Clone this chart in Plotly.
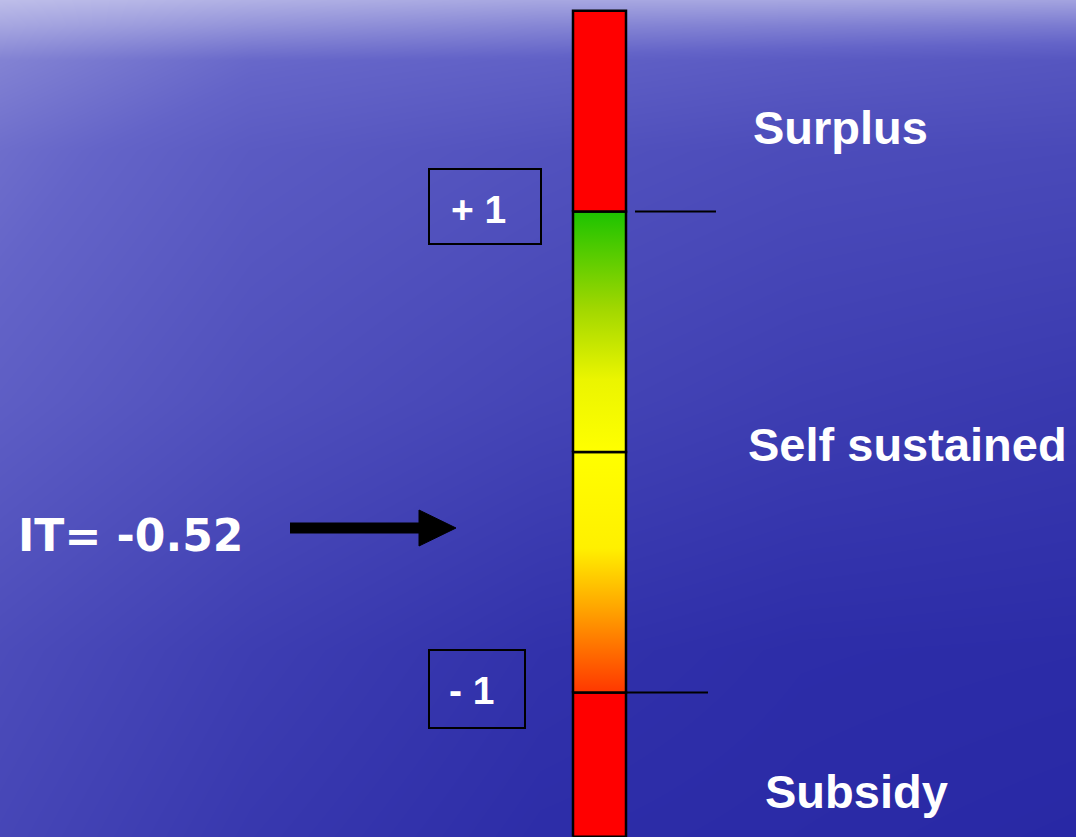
import plotly.graph_objects as go

# scale of the indicator bar (value units)
segments = ['Subsidy', 'Self sustained (low)', 'Self sustained (high)', 'Surplus']
seg_low = [-1.60, -1.0, 0.0, 1.0]
seg_high = [-1.0, 0.0, 1.0, 1.835]
seg_colors = [
    [[0, 'rgb(255,0,0)'], [1, 'rgb(255,0,0)']],
    [[0, 'rgb(255,55,0)'], [0.35, 'rgb(255,165,0)'], [0.6, 'rgb(255,240,0)'], [1, 'rgb(255,255,0)']],
    [[0, 'rgb(255,255,0)'], [0.3, 'rgb(235,245,0)'], [0.6, 'rgb(160,215,0)'], [1, 'rgb(28,195,0)']],
    [[0, 'rgb(255,0,0)'], [1, 'rgb(255,0,0)']],
]
region_labels = ['Surplus', 'Self sustained', 'Subsidy']
region_values = [1.35, 0.03, -1.41]
region_x = [840, 907, 856]
threshold_labels = ['+ 1', '- 1']
threshold_values = [1, -1]
it_value = -0.52
it_arrow_at = -0.316

# page geometry: pixel -> value along the bar
PX0, PXU = 452, 240.5
def v(py):
    return (PX0 - py) / PXU

fig = go.Figure()

# background (sea-like blue gradient)
bg_x = [0, 250, 540, 800, 1076]
bg_y = [v(p) for p in [0, 25, 60, 150, 400, 650, 837]]
bg_z = [
    [0.97, 0.90, 0.85, 0.85, 0.83],
    [0.85, 0.75, 0.68, 0.65, 0.62],
    [0.66, 0.52, 0.47, 0.42, 0.38],
    [0.55, 0.42, 0.35, 0.30, 0.28],
    [0.45, 0.33, 0.24, 0.18, 0.14],
    [0.30, 0.18, 0.08, 0.04, 0.03],
    [0.25, 0.13, 0.04, 0.02, 0.00],
]
fig.add_trace(go.Heatmap(x=bg_x, y=bg_y, z=bg_z, zsmooth='best', showscale=False,
                         colorscale=[[0, 'rgb(40,40,165)'], [0.5, 'rgb(100,100,200)'], [1, 'rgb(195,195,235)']],
                         zmin=0, zmax=1, hoverinfo='skip'))

# bar segments
x0, x1 = 573, 626
for name, lo, hi, cs in zip(segments, seg_low, seg_high, seg_colors):
    fig.add_trace(go.Scatter(x=[x0, x1, x1, x0, x0], y=[lo, lo, hi, hi, lo], mode='lines',
                             fill='toself', name=name,
                             fillgradient=dict(type='vertical', colorscale=cs, start=lo, stop=hi),
                             line=dict(color='black', width=2.5), showlegend=False))

# threshold lines and boxes
line_x = [(635, 716), (626, 708)]
box_x = [(429, 541), (429, 525)]
box_y = [(169, 244), (650, 728)]
text_x = [478, 472]
for lab, val, (lx0, lx1), (bx0, bx1), (by0, by1), tx in zip(threshold_labels, threshold_values,
                                                          line_x, box_x, box_y, text_x):
    fig.add_shape(type='line', x0=lx0, x1=lx1, y0=val, y1=val, line=dict(color='black', width=2))
    fig.add_shape(type='rect', x0=bx0, x1=bx1, y0=v(by1), y1=v(by0),
                  line=dict(color='black', width=2))
    fig.add_annotation(x=tx, y=val + 0.01, text='<b>%s</b>' % lab, showarrow=False,
                       font=dict(size=39, color='white', family='Arial, Liberation Sans'))

for lab, val, xx in zip(region_labels, region_values, region_x):
    fig.add_annotation(x=xx, y=val, text='<b>%s</b>' % lab, showarrow=False,
                       font=dict(size=47, color='white', family='Arial, Liberation Sans'))

fig.add_annotation(x=16, y=v(535), xanchor='left', text='<b>IT= %.2f</b>' % it_value, showarrow=False,
                   font=dict(size=44, color='white', family='DejaVu Sans'))

# arrow
fig.add_shape(type='line', x0=290, x1=421, y0=it_arrow_at, y1=it_arrow_at,
              line=dict(color='black', width=11))
fig.add_shape(type='path', path='M 419,%f L 456,%f L 419,%f Z' % (v(510), it_arrow_at, v(546)),
              fillcolor='black', line=dict(color='black', width=1))

fig.update_xaxes(range=[0, 1076], visible=False, fixedrange=True)
fig.update_yaxes(range=[v(837), v(0)], visible=False, fixedrange=True)
fig.update_layout(width=1076, height=837, margin=dict(l=0, r=0, t=0, b=0),
                  plot_bgcolor='rgb(60,60,175)', paper_bgcolor='rgb(60,60,175)')

fig.write_html("out.html", config={'displayModeBar': False},
               post_script="document.body.style.margin='0';document.body.style.overflow='hidden';")
